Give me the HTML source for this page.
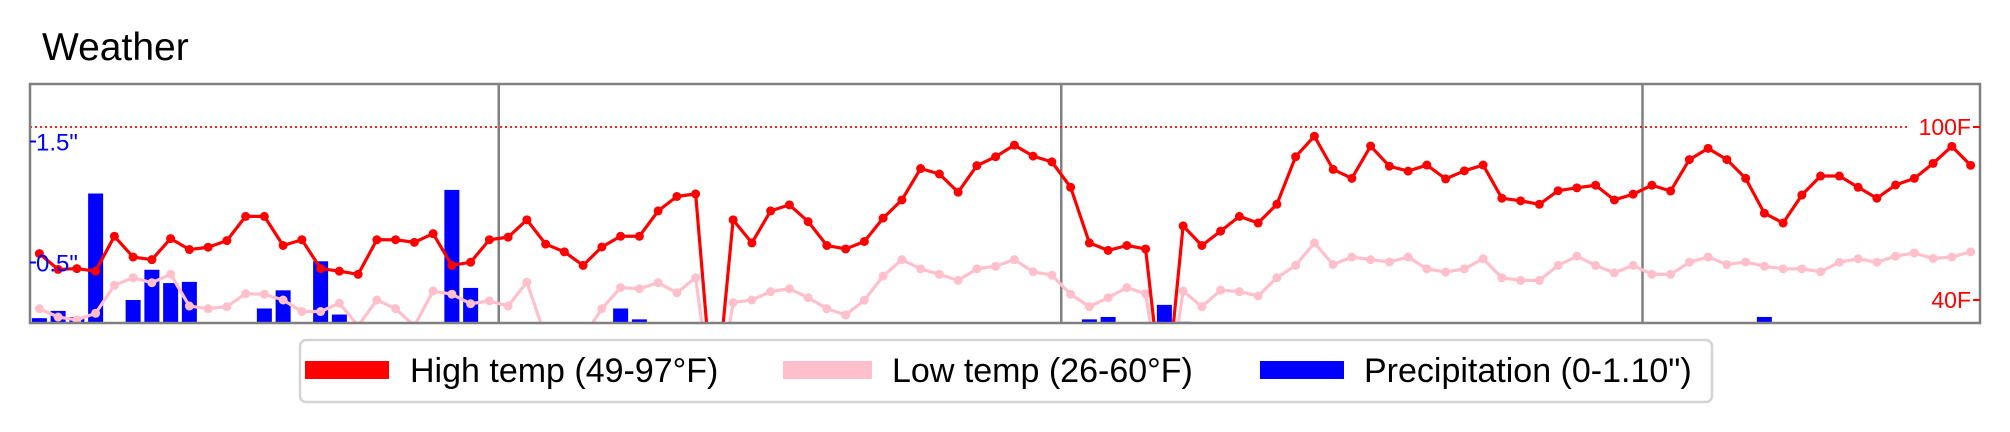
<!DOCTYPE html>
<html><head><meta charset="utf-8"><style>
html,body{margin:0;padding:0;background:#fff;width:2010px;height:432px;overflow:hidden;font-family:"Liberation Sans",Arial,sans-serif}
svg{display:block}
</style></head><body>
<svg id="chart" width="2010" height="432">
<text x="42" y="60" font-size="39" fill="#000">Weather</text>
<defs><clipPath id="plotclip"><rect x="30" y="84" width="1950" height="239"/></clipPath></defs>
<g id="bars" clip-path="url(#plotclip)"></g>
<g id="seps"></g>
<line x1="30" y1="127" x2="1908" y2="127" stroke="#ff0000" stroke-width="1.8" stroke-dasharray="2,3"/>
<g id="lines" clip-path="url(#plotclip)"></g>
<rect x="30" y="84" width="1950" height="239" fill="none" stroke="#808080" stroke-width="2.5"/>
<g id="ticks"></g>
<g>
<rect x="300" y="340" width="1412" height="62" rx="6" fill="#fff" stroke="#d4d4d4" stroke-width="2.5"/>
<g><rect x="305" y="361" width="84" height="18" fill="#ff0000"/><text x="410" y="382" font-size="34" fill="#000">High temp (49-97°F)</text></g>
<g><rect x="783" y="361" width="89" height="18" fill="#ffc0cb"/><text x="892" y="382" font-size="34" fill="#000">Low temp (26-60°F)</text></g>
<g><rect x="1260" y="361" width="84" height="18" fill="#0000ff"/><text x="1364" y="382" font-size="34" fill="#000">Precipitation (0-1.10")</text></g>
</g>
</svg>
<script>
const highTemps=[56.1,50.6,50.9,50.0,62.1,54.9,54.0,61.3,57.5,58.3,60.6,69.0,69.0,58.9,60.9,50.9,50.0,48.9,60.9,60.9,60.0,63.0,52.0,53.1,60.9,61.8,67.8,59.4,56.7,52.0,58.4,62.1,62.1,70.9,75.9,76.8,0,67.8,59.8,70.9,73.0,67.2,58.9,57.7,60.3,68.4,74.7,85.6,83.7,77.4,86.6,89.7,93.7,89.9,87.9,79.1,59.8,57.2,58.9,57.7,0,65.7,58.9,63.9,69.0,66.7,73.2,89.7,96.8,85.3,82.2,93.4,86.4,84.7,86.8,82.0,84.8,86.8,75.3,74.4,73.2,77.9,78.9,79.8,74.7,76.7,79.8,77.8,88.7,92.6,88.7,82.2,70.1,66.7,76.4,83.0,83.0,79.1,75.3,79.9,82.2,87.4,93.3,86.7];
const lowTemps=[37.0,34.1,33.1,35.4,45.1,47.7,46.0,48.9,37.9,37.0,37.7,42.2,42.0,40.0,36.0,36.0,38.9,31.0,40.0,37.0,31.0,43.1,42.0,38.7,39.7,37.9,46.2,27,26,27,37.0,44.3,43.9,46.0,42.5,47.7,0,39.1,40.0,42.9,43.9,40.8,37.0,34.8,39.9,48.3,54.0,50.8,48.9,46.8,50.8,51.7,54.0,49.8,48.6,42.0,37.7,40.8,44.3,42.2,0,43.1,37.7,43.4,42.9,41.4,47.7,52.0,59.8,52.3,54.9,54.0,53.2,54.9,50.8,49.7,50.8,54.3,47.7,46.8,46.8,52.0,55.2,52.0,49.4,52.0,48.9,48.9,53.1,54.9,52.3,53.2,51.7,50.8,50.8,49.8,53.1,54.3,53.1,55.2,56.3,54.4,54.9,56.7];
const precipDays=[0,1,2,3,5,6,7,8,12,13,15,16,22,23,31,32,56,57,60,61,92];
const precipValues=[0.04,0.10,0.05,1.07,0.19,0.44,0.33,0.34,0.12,0.27,0.51,0.07,1.10,0.29,0.12,0.03,0.03,0.05,0.15,0.01,0.05];
const monthStarts=[25,55,86];
const tempTicks=[100,40];
const tempTickLabels=["100F","40F"];
const precipTicks=[1.5,0.5];
const precipTickLabels=["1.5\"","0.5\""];

const NS="http://www.w3.org/2000/svg";
const L=30,R=1980,T=84,B=323,N=highTemps.length;
const xs=i=>L+(i+0.5)*(R-L)/N;
const yT=t=>127+(100-t)*(300-127)/60;
const yP=p=>B-p*121;
function mk(tag,attrs,parent){const e=document.createElementNS(NS,tag);for(const k in attrs)e.setAttribute(k,attrs[k]);parent.appendChild(e);return e;}
const bars=document.getElementById('bars');
precipDays.forEach((d,i)=>{const w=0.8*(R-L)/N;
 const r=mk('rect',{x:xs(d)-w/2,y:yP(precipValues[i]),width:w,height:B-yP(precipValues[i]),fill:'#0000ff'},bars);
 
 });
const seps=document.getElementById('seps');
monthStarts.forEach(m=>{const x=L+m*(R-L)/N;
 const l=mk('line',{x1:x,y1:T,x2:x,y2:B,stroke:'#808080','stroke-width':2.5},seps);
 
 });
const lines=document.getElementById('lines');
function series(vals,color,name){
 const g=mk('g',{},lines);
 
 
 mk('polyline',{points:vals.map((v,i)=>xs(i)+','+yT(v)).join(' '),fill:'none',stroke:color,'stroke-width':3.2,'stroke-linejoin':'round'},g);
 vals.forEach((v,i)=>{const c=mk('circle',{cx:xs(i),cy:yT(v),r:4.5,fill:color},g);
  
  });
}
series(lowTemps,'#ffc0cb','low-temp-line');
series(highTemps,'#ff0000','high-temp-line');
const ticks=document.getElementById('ticks');
tempTicks.forEach((t,i)=>{const y=yT(t);
 mk('line',{x1:R-7,y1:y,x2:R,y2:y,stroke:'#ff0000','stroke-width':2},ticks);
 const tx=mk('text',{x:R-9,y:y+8,'font-size':23,fill:'#ff0000','text-anchor':'end'},ticks);
 tx.textContent=tempTickLabels[i];
 
 });
precipTicks.forEach((p,i)=>{const y=yP(p);
 mk('line',{x1:L,y1:y,x2:L+6,y2:y,stroke:'#0000ff','stroke-width':2},ticks);
 const tx=mk('text',{x:L+6,y:y+9,'font-size':24,fill:'#0000ff'},ticks);
 tx.textContent=precipTickLabels[i];
 
 });
</script>
</body></html>
